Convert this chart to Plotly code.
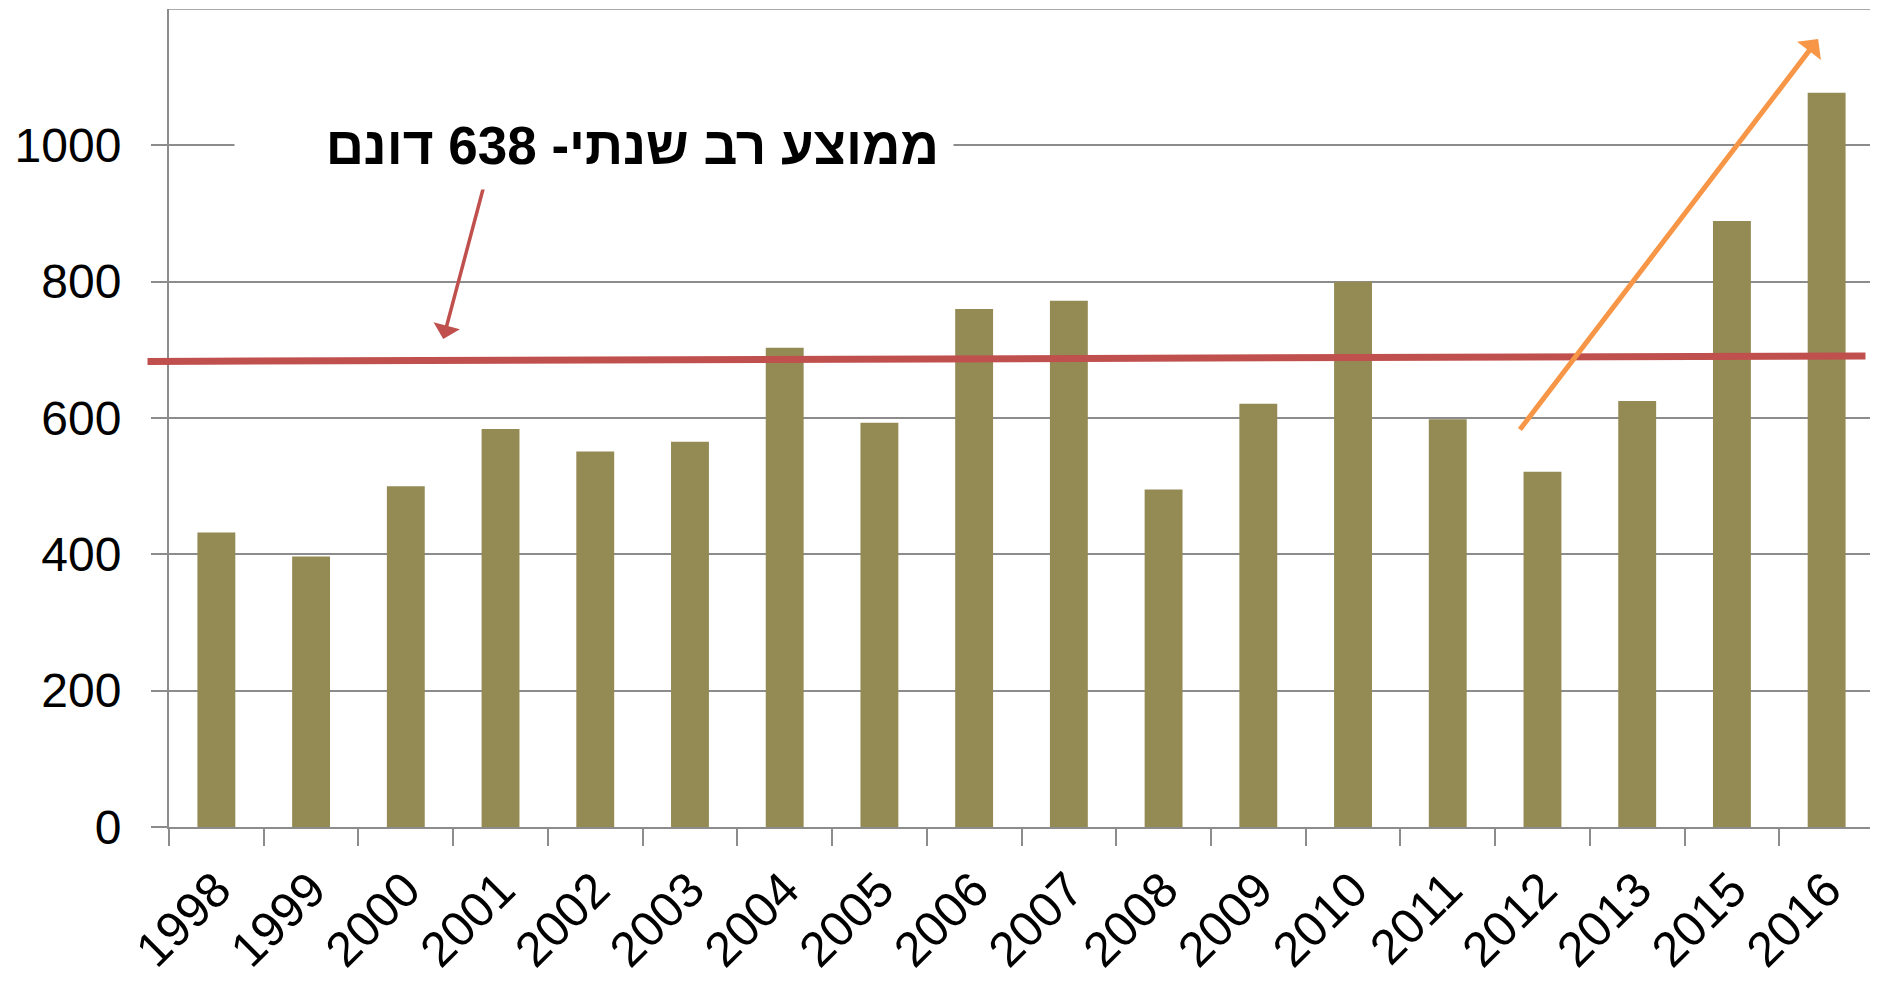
import plotly.graph_objects as go

years = ["1998", "1999", "2000", "2001", "2002", "2003", "2004", "2005", "2006",
         "2007", "2008", "2009", "2010", "2011", "2012", "2013", "2015", "2016"]
area = [432, 397, 500, 584, 551, 565, 703, 593, 760,
        772, 495, 621, 800, 598, 521, 625, 889, 1077]
avg_line = [683, 691]  # start / end of drawn average line
y_ticks = [0, 200, 400, 600, 800, 1000]
label_text = "ממוצע רב שנתי- 638 דונם"

BAR = "#948A54"
RED = "#C0504D"
ORANGE = "#F79646"
GRID = "#8C8C8C"
FONT = "Liberation Sans"

fig = go.Figure()
fig.add_trace(go.Bar(x=years, y=area, marker=dict(color=BAR, line=dict(width=0)),
                     width=0.4, showlegend=False, hoverinfo="x+y"))

fig.add_shape(type="line", xref="paper", yref="y", x0=-0.0126, x1=0.995,
              y0=avg_line[0], y1=avg_line[1], line=dict(color=RED, width=7), layer="above")

# red arrow pointing to the average line
fig.add_annotation(x=2.395, y=716, ax=2.85, ay=954, xref="x", yref="y", axref="x", ayref="y",
                   showarrow=True, arrowhead=1, arrowsize=1.3, arrowwidth=3.5,
                   arrowcolor=RED, text="", standoff=0)
# orange trend arrow
fig.add_annotation(x=16.91, y=1156, ax=13.75, ay=581, xref="x", yref="y", axref="x", ayref="y",
                   showarrow=True, arrowhead=1, arrowsize=1.0, arrowwidth=5,
                   arrowcolor=ORANGE, text="", standoff=0)

fig.add_annotation(x=0.038, y=1000, xref="paper", yref="y", xanchor="left", yanchor="middle",
                   text="<b>" + label_text + "</b>", showarrow=False, width=690, align="right",
                   borderpad=14, bgcolor="white", font=dict(family=FONT, size=53, color="black"))

fig.update_layout(
    width=1870, height=975,
    margin=dict(l=160.5, r=4, t=1, b=156, autoexpand=False),
    paper_bgcolor="white", plot_bgcolor="white",
    font=dict(family=FONT, color="black"),
    bargap=0.6,
)
fig.update_xaxes(type="category", tickangle=-45, tickfont=dict(size=49, family=FONT),
                 showline=True, linecolor=GRID, linewidth=2, automargin=False,
                 ticks="outside", tickson="boundaries", ticklen=17, tickcolor=GRID, tickwidth=2,
                 showgrid=False, ticklabelstandoff=12)
fig.update_yaxes(range=[0, 1200], tickvals=y_ticks, tickfont=dict(size=48, family=FONT),
                 showline=True, linecolor=GRID, linewidth=2, automargin=False,
                 showgrid=True, gridcolor=GRID, gridwidth=1.5,
                 ticks="outside", ticklen=16, tickcolor=GRID, tickwidth=1.5,
                 zeroline=False, ticklabelstandoff=20)
# top border gridline at 1200
fig.add_shape(type="line", xref="paper", yref="y", x0=0, x1=1, y0=1200, y1=1200,
              line=dict(color=GRID, width=1.5), layer="below")

fig.write_html("out.html")
